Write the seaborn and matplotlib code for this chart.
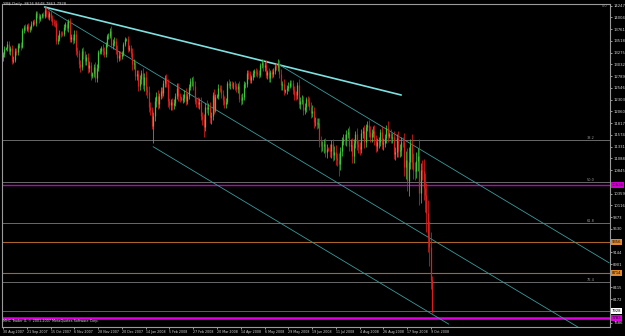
import matplotlib
matplotlib.use("Agg")
import matplotlib.pyplot as plt
import pandas as pd
import seaborn as sns

# -------------------------
# datos: barras diarias YM (30 ago 2007 - 10 oct 2008)
# -------------------------
first_open = 13180
closes = [
    13238, 13358, 13370, 13449, 13306, 13364, 13113, 13128, 13308, 13292,
    13424, 13442, 13403, 13739, 13816, 13766, 13820, 13759, 13779, 13878,
    13913, 13896, 14088, 14047, 13969, 14044, 14066, 14043, 14165, 14079,
    14016, 14093, 13985, 13913, 13893, 13889, 13522, 13567, 13676, 13675,
    13671, 13807, 13870, 13792, 13930, 13567, 13595, 13543, 13660, 13300,
    13266, 13043, 12987, 13307, 13231, 13110, 13176, 12958, 13010, 12799,
    12850, 12981, 12743, 12958, 13289, 13311, 13372, 13314, 13249, 13445,
    13620, 13625, 13727, 13433, 13473, 13518, 13340, 13167, 13232, 13207,
    13245, 13451, 13550, 13552, 13360, 13366, 13265, 13044, 13057, 12800,
    12827, 12590, 12736, 12853, 12606, 12778, 12501, 12467, 12159, 12099,
    11760, 11971, 12270, 12378, 12207, 12384, 12480, 12443, 12650, 12743,
    12635, 12265, 12200, 12247, 12182, 12240, 12373, 12552, 12376, 12348,
    12300, 12337, 12427, 12284, 12381, 12570, 12684, 12694, 12582, 12266,
    12258, 12213, 12254, 11967, 11894, 11740, 12156, 12110, 12146, 11951,
    11972, 12392, 12099, 12361, 12380, 12548, 12533, 12422, 12302, 12216,
    12263, 12654, 12605, 12626, 12610, 12612, 12577, 12527, 12582, 12325,
    12302, 12362, 12619, 12620, 12849, 12825, 12720, 12763, 12849, 12891,
    12871, 12831, 12820, 13010, 13058, 12969, 13020, 12814, 12866, 12745,
    12876, 12832, 12898, 12992, 12986, 13028, 12828, 12601, 12625, 12479,
    12500, 12548, 12594, 12647, 12638, 12503, 12402, 12390, 12604, 12209,
    12280, 12289, 12084, 12141, 12307, 12269, 12160, 12029, 12063, 11843,
    11843, 11807, 11811, 11453, 11346, 11350, 11382, 11215, 11288, 11260,
    11231, 11384, 11147, 11229, 11100, 11055, 10962, 11239, 11446, 11496,
    11467, 11602, 11632, 11349, 11370, 11131, 11397, 11584, 11378, 11326,
    11284, 11615, 11656, 11431, 11734, 11782, 11642, 11532, 11615, 11659,
    11479, 11349, 11417, 11430, 11628, 11386, 11413, 11502, 11715, 11543,
    11600, 11516, 11532, 11188, 11220, 11510, 11231, 11268, 11433, 11421,
    10917, 11059, 10609, 11019, 11388, 11016, 10854, 10825, 11023, 11143,
    10365, 10851, 10831, 10482, 10325, 9955, 9447, 9258, 8579, 7928,
]
# mecha por encima / por debajo del cuerpo (puntos)
wick_up = [
    60, 50, 20, 60, 70, 50, 60, 80, 60, 70,
    50, 40, 60, 50, 40, 60, 40, 60, 40, 50,
    40, 50, 50, 60, 50, 40, 40, 50, 56, 60,
    80, 40, 60, 70, 60, 50, 60, 70, 60, 40,
    50, 60, 50, 70, 40, 60, 70, 60, 80, 90,
    90, 70, 80, 60, 90, 80, 70, 90, 100, 80,
    30, 60, 100, 80, 40, 70, 50, 90, 80, 50,
    40, 60, 60, 100, 80, 90, 70, 90, 80, 70,
    60, 50, 40, 30, 70, 60, 70, 100, 90, 70,
    100, 90, 80, 60, 100, 80, 110, 90, 120, 100,
    50, 70, 80, 90, 120, 60, 80, 90, 70, 80,
    90, 100, 80, 70, 90, 70, 60, 90, 100, 70,
    30, 90, 80, 110, 70, 50, 60, 80, 90, 110,
    70, 90, 80, 110, 90, 120, 70, 140, 90, 100,
    80, 60, 140, 50, 30, 70, 60, 80, 90, 80,
    70, 40, 80, 60, 70, 60, 70, 80, 60, 110,
    90, 70, 60, 50, 60, 70, 80, 60, 60, 40,
    60, 70, 90, 60, 80, 90, 70, 110, 60, 90,
    50, 60, 50, 50, 60, 108, 90, 110, 70, 100,
    30, 60, 70, 60, 70, 80, 90, 70, 60, 120,
    80, 100, 90, 90, 60, 80, 90, 100, 120, 90,
    100, 90, 120, 110, 90, 100, 110, 120, 90, 30,
    120, 80, 110, 120, 130, 100, 140, 90, 80, 100,
    90, 70, 80, 130, 120, 140, 90, 80, 130, 100,
    110, 80, 90, 120, 70, 85, 110, 120, 80, 90,
    120, 100, 90, 110, 70, 130, 90, 100, 60, 140,
    30, 90, 80, 120, 110, 80, 150, 120, 100, 90,
    200, 180, 250, 300, 95, 200, 180, 160, 200, 150,
    350, 150, 200, 250, 300, 250, 280, 350, 300, 70,
]
wick_dn = [
    70, 60, 20, 50, 60, 80, 70, 60, 50, 60,
    60, 50, 70, 40, 60, 50, 40, 50, 60, 40,
    50, 40, 60, 50, 70, 40, 50, 60, 40, 60,
    50, 60, 50, 70, 60, 80, 70, 60, 50, 70,
    60, 50, 70, 60, 80, 70, 80, 90, 60, 80,
    70, 90, 110, 60, 80, 90, 80, 100, 80, 90,
    40, 70, 75, 80, 60, 50, 70, 80, 60, 70,
    50, 60, 40, 70, 80, 60, 90, 80, 70, 80,
    70, 40, 30, 40, 80, 60, 70, 120, 100, 90,
    80, 110, 90, 100, 80, 120, 100, 130, 110, 120,
    60, 355, 100, 120, 90, 80, 70, 100, 60, 90,
    70, 120, 100, 110, 90, 80, 70, 60, 100, 90,
    30, 70, 90, 100, 80, 60, 70, 90, 80, 60,
    110, 90, 100, 80, 120, 210, 90, 80, 120, 130,
    150, 80, 100, 60, 30, 60, 80, 90, 100, 80,
    80, 60, 70, 80, 60, 90, 80, 70, 90, 70,
    100, 80, 60, 80, 50, 90, 80, 70, 60, 70,
    80, 60, 70, 50, 60, 70, 80, 60, 90, 70,
    70, 80, 60, 70, 60, 80, 70, 90, 100, 80,
    30, 80, 70, 60, 80, 90, 100, 90, 70, 80,
    90, 70, 100, 80, 90, 100, 80, 110, 90, 120,
    90, 110, 100, 120, 130, 110, 150, 100, 110, 30,
    110, 130, 110, 100, 140, 130, 231, 120, 100, 90,
    100, 120, 90, 110, 100, 140, 130, 90, 110, 120,
    120, 90, 100, 130, 100, 90, 120, 100, 110, 90,
    110, 130, 100, 110, 90, 100, 120, 90, 100, 110,
    30, 100, 120, 110, 130, 100, 120, 110, 130, 100,
    200, 250, 200, 300, 150, 150, 200, 180, 150, 200,
    250, 200, 200, 250, 350, 400, 300, 400, 200, 46,
]

date_labels = ["30 Aug 2007", "21 Sep 2007", "15 Oct 2007", "6 Nov 2007", "28 Nov 2007",
               "20 Dec 2007", "14 Jan 2008", "5 Feb 2008", "27 Feb 2008", "20 Mar 2008",
               "14 Apr 2008", "6 May 2008", "29 May 2008", "19 Jun 2008", "11 Jul 2008",
               "4 Aug 2008", "26 Aug 2008", "17 Sep 2008", "9 Oct 2008"]
date_bars = [0, 16, 32, 48, 64, 80, 96, 112, 128, 144, 160, 176, 192, 208, 224, 240, 256, 272, 288]

price_ticks = [14247, 14004, 13761, 13518, 13275, 13032, 12789, 12546, 12303, 12060,
               11817, 11574, 11331, 11088, 10845, 10359, 10116, 9873, 9630,
               9144, 8901, 8415, 8172, 7686]

# lineas de tendencia: (nombre, barra inicio, precio inicio, barra fin, precio fin)
trend_names = ["resist", "canal_sup", "canal_med", "canal_inf"]
trend_x0 = [28, 185, 28, 101]
trend_y0 = [14221, 13041, 14221, 11330]
trend_x1 = [268, 408, 400, 300]
trend_y1 = [12399, 8924, 7354, 7656]

# niveles horizontales
fib_levels = [11468, 10598, 9749, 8528]
fib_names = ["38.2", "50.0", "61.8", "76.4"]
hline_prices = [10536, 9356, 8714, 7928, 7783]
hline_colors = ["#c000c0", "#a8642c", "#a8642c", "#3c7a3c", "#e000e0"]
hline_widths = [1.0, 0.8, 0.8, 0.7, 1.8]
box_colors = ["#d000d0", "#e08a30", "#e08a30", "#ffffff", "#e000e0"]

# -------------------------
# armar tabla de velas
# -------------------------
df = pd.DataFrame({"bar": range(len(closes)), "close": closes})
df["open"] = [first_open] + closes[:-1]
df["high"] = df[["open", "close"]].max(axis=1) + pd.Series(wick_up)
df["low"] = df[["open", "close"]].min(axis=1) - pd.Series(wick_dn)
df["color"] = ["#3cc83c" if c >= o else "#dc1e1e" for o, c in zip(df["open"], df["close"])]

tl = pd.DataFrame({
    "name": trend_names * 2,
    "bar": trend_x0 + trend_x1,
    "price": trend_y0 + trend_y1,
})

# -------------------------
# grafico
# -------------------------
sns.set_theme(style="dark", rc={"axes.facecolor": "black", "figure.facecolor": "black"})
plt.rcParams["font.family"] = ["DejaVu Sans"]

fig = plt.figure(figsize=(6.25, 3.36), dpi=100)
ax = fig.add_axes([2 / 625, 9 / 336, 608 / 625, 323 / 336])
ax.set_facecolor("black")

for p in fib_levels:
    ax.axhline(p, color="#7a7a7a", lw=0.6, zorder=1)
for p, c, w in zip(hline_prices, hline_colors, hline_widths):
    ax.axhline(p, color=c, lw=w, zorder=1)

sns.lineplot(data=tl, x="bar", y="price", hue="name", size="name",
             palette={"resist": "#7fe0e0", "canal_sup": "#3a9a9a",
                      "canal_med": "#3a9a9a", "canal_inf": "#3a9a9a"},
             sizes={"resist": 1.2, "canal_sup": 0.6, "canal_med": 0.6, "canal_inf": 0.6},
             legend=False, ax=ax, zorder=2)

ax.vlines(df["bar"], df["low"], df["high"], colors=df["color"], lw=0.55, zorder=3)
ax.vlines(df["bar"], df["open"], df["close"], colors=df["color"], lw=0.9, zorder=3)

ax.set_xlim(-0.67, 408.5)
ax.set_ylim(7597, 14283)
ax.set_xlabel("")
ax.set_ylabel("")

for s in ax.spines.values():
    s.set_color("#9a9a9a")
    s.set_linewidth(0.8)

ax.yaxis.tick_right()
ax.set_yticks(price_ticks)
ax.set_yticklabels([str(v) for v in price_ticks])
ax.set_xticks(date_bars)
ax.set_xticklabels(date_labels)
ax.tick_params(axis="both", colors="#d8d8d8", length=1.5, width=0.5, pad=0.8)
ax.tick_params(axis="y", right=True, left=False, labelsize=2.7)
ax.tick_params(axis="x", bottom=True, labelsize=2.3)
for lbl in ax.get_xticklabels():
    lbl.set_ha("left")

ytr = ax.get_yaxis_transform()
for p, bc in zip(hline_prices, box_colors):
    ax.text(1.003, p, str(p), transform=ytr, fontsize=2.7, color="black", va="center", ha="left",
            bbox=dict(boxstyle="square,pad=0.15", fc=bc, ec="none"), clip_on=False)
for p, n in zip(fib_levels, fib_names):
    ax.text(0.975, p, n, transform=ytr, fontsize=2.5, color="#9a9a9a", va="bottom", ha="right")
ax.text(0.995, 0.999, "0.0", transform=ax.transAxes, fontsize=2.5, color="#9a9a9a", va="top", ha="right")

fig.text(3 / 625, 1 - 2 / 336, "YM$,Daily  8616 8648 7863 7928", fontsize=2.7, color="#d8d8d8", va="top")
ax.text(0.002, 0.012, "MHC Trader 4, \u00a9 2001-2007 MetaQuotes Software Corp.", transform=ax.transAxes,
        fontsize=2.4, color="#d8d8d8", va="bottom")

fig.savefig("out.png", dpi=100, facecolor="black")
